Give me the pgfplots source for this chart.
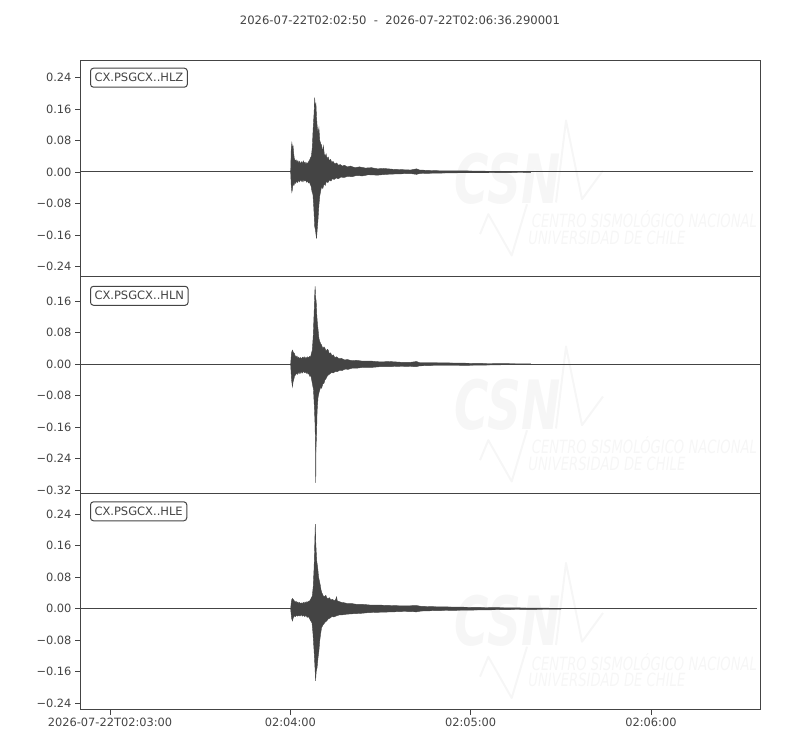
\documentclass[border=0pt]{standalone}
\usepackage{fontspec}
\setmainfont{DejaVu Sans}
\usepackage{pgfplots}
\pgfplotsset{compat=1.18}

\definecolor{ink}{HTML}{444444}
\definecolor{wm}{HTML}{F6F6F6}

\pgfplotsset{
  seis/.style={
    scale only axis, width=680pt, height=216.5pt,
    xmin=0, xmax=226.29,
    tick pos=left, tick align=outside, major tick length=5pt,
    axis line style={draw=ink, line width=1pt},
    tick style={draw=ink, line width=0.8pt},
    ticklabel style={font=\fontsize{11.4}{13}\selectfont, text=ink},
    xtick=\empty,
  },
  trace/.style={draw=ink, fill=ink, line width=0.4pt},
  base/.style={draw=ink, line width=1pt},
}
\tikzset{
  stationbox/.style={anchor=north west, xshift=10pt, yshift=-8pt, draw=ink,
    rounded corners=3pt, fill=white, line width=1pt, text=ink,
    font=\fontsize{11.5}{13}\selectfont, inner xsep=4pt, minimum height=19pt},
}

% faint CSN watermark (drawn at the bottom panel's place, shifted up for the others)
\newcommand\csnlogo[1]{%
  \begin{scope}[yshift=#1pt]
    \draw[wm, line width=2pt, line join=round] (480pt,73.3pt) -- (488.3pt,93.3pt) -- (511.7pt,52pt) -- (527pt,103.3pt);
    \draw[wm, line width=2pt, line join=round] (556pt,105pt) -- (566pt,187pt) -- (582pt,108.3pt) -- (603pt,137pt);
    \node[wm, xscale=0.69, font=\fontsize{68}{68}\selectfont\bfseries\itshape] at (507.5pt,129pt) {CSN};
    \node[wm, anchor=west, xscale=0.72, inner sep=0pt, font=\fontsize{18.3}{18.3}\selectfont\itshape] at (531.7pt,88.3pt) {CENTRO SISMOLÓGICO NACIONAL};
    \node[wm, anchor=west, xscale=0.72, inner sep=0pt, font=\fontsize{18.3}{18.3}\selectfont\itshape] at (528.3pt,70pt) {UNIVERSIDAD DE CHILE};
  \end{scope}}

\begin{document}
\begin{tikzpicture}
\useasboundingbox (0,0) rectangle (800pt,750pt);
\csnlogo{0}\csnlogo{216.5}\csnlogo{442.5}

\node[font=\fontsize{11.6}{13}\selectfont, text=ink] at (400pt,730pt)
  {2026-07-22T02:02:50\ \ -\ \ 2026-07-22T02:06:36.290001};

% HLZ
\begin{axis}[seis, at={(80pt,473.2pt)}, anchor=south west,
  ymin=-0.2662, ymax=0.2837,
  ytick={-0.24,-0.16,-0.08,0,0.08,0.16,0.24},
  yticklabels={−0.24,−0.16,−0.08,0.00,0.08,0.16,0.24}]
\addplot[base] coordinates {(0,0) (224,0)};
\addplot[trace] coordinates {
(70.1,0) (70.3,0.060) (70.5,0.074) (70.7,0.062) (70.9,0.066) (71.1,0.048) (71.3,0.035)
(71.6,0.028) (71.9,0.031) (72.2,0.024) (72.5,0.029) (72.8,0.022) (73.1,0.027) (73.4,0.020)
(73.7,0.026) (74.0,0.021) (74.3,0.028) (74.6,0.022) (74.9,0.025) (75.2,0.019) (75.5,0.024)
(75.8,0.021) (76.1,0.027) (76.4,0.030) (76.7,0.036) (77.0,0.040) (77.3,0.062) (77.6,0.112)
(77.9,0.150) (78.1,0.189) (78.3,0.160) (78.5,0.176) (78.7,0.140) (78.9,0.118) (79.2,0.098)
(79.5,0.112) (79.8,0.080) (80.1,0.072) (80.4,0.068) (80.7,0.050) (81.0,0.066) (81.3,0.045)
(81.6,0.040) (81.9,0.046) (82.2,0.034) (82.6,0.038) (83.0,0.028) (83.4,0.032) (83.8,0.024)
(84.2,0.027) (84.8,0.020) (85.4,0.023) (86.0,0.017) (86.6,0.019) (87.3,0.015) (88.0,0.017)
(89.0,0.013) (90.0,0.015) (91.5,0.011) (93.0,0.013) (95.0,0.010) (97.0,0.011) (99.0,0.008)
(101.0,0.009) (104.0,0.007) (107.0,0.006) (110.0,0.005) (112.0,0.008) (113.0,0.005)
(116.0,0.004) (120.0,0.003) (126.0,0.003) (135.0,0.002) (150.0,0.001) (150.0,0)
};
\addplot[trace] coordinates {
(70.1,0) (70.3,-0.035) (70.5,-0.051) (70.7,-0.044) (70.9,-0.030) (71.2,-0.034) (71.5,-0.026)
(71.8,-0.029) (72.1,-0.022) (72.4,-0.027) (72.7,-0.021) (73.0,-0.025) (73.3,-0.019) (73.6,-0.024)
(73.9,-0.020) (74.2,-0.025) (74.5,-0.019) (74.8,-0.023) (75.1,-0.020) (75.4,-0.026) (75.7,-0.022)
(76.0,-0.028) (76.3,-0.025) (76.6,-0.031) (76.9,-0.036) (77.2,-0.050) (77.5,-0.056) (77.8,-0.090)
(78.1,-0.138) (78.4,-0.150) (78.7,-0.169) (78.9,-0.150) (79.2,-0.121) (79.5,-0.085) (79.8,-0.060)
(80.1,-0.048) (80.4,-0.037) (80.8,-0.042) (81.2,-0.030) (81.6,-0.034) (82.0,-0.024) (82.5,-0.027)
(83.0,-0.020) (83.5,-0.023) (84.0,-0.017) (84.6,-0.019) (85.2,-0.015) (86.0,-0.017) (86.8,-0.013)
(88.0,-0.014) (89.0,-0.011) (90.5,-0.012) (92.0,-0.009) (94.0,-0.010) (96.0,-0.007) (99.0,-0.008)
(102.0,-0.006) (105.0,-0.005) (110.0,-0.004) (112.0,-0.006) (113.0,-0.004) (118.0,-0.003)
(126.0,-0.002) (135.0,-0.002) (150.0,-0.001) (150.0,0)
};
\node[stationbox, yshift=0.6pt] at (rel axis cs:0,1) {CX.PSGCX..HLZ};
\end{axis}

% HLN
\begin{axis}[seis, at={(80pt,256.7pt)}, anchor=south west,
  ymin=-0.3277, ymax=0.2222,
  ytick={-0.32,-0.24,-0.16,-0.08,0,0.08,0.16},
  yticklabels={−0.32,−0.24,−0.16,−0.08,0.00,0.08,0.16}]
\addplot[base] coordinates {(0,0) (226.29,0)};
\addplot[trace] coordinates {
(70.1,0) (70.4,0.030) (70.7,0.036) (71.0,0.030) (71.3,0.028) (71.6,0.022) (71.9,0.018)
(72.2,0.021) (72.5,0.015) (72.8,0.018) (73.1,0.014) (73.4,0.017) (73.7,0.013) (74.0,0.018)
(74.3,0.015) (74.6,0.019) (74.9,0.014) (75.2,0.018) (75.5,0.015) (75.8,0.019) (76.1,0.016)
(76.4,0.020) (76.7,0.018) (77.0,0.027) (77.3,0.036) (77.6,0.070) (77.9,0.129) (78.1,0.175)
(78.25,0.198) (78.4,0.170) (78.6,0.160) (78.8,0.125) (79.0,0.104) (79.2,0.090) (79.5,0.066)
(79.8,0.058) (80.1,0.052) (80.4,0.049) (80.8,0.040) (81.2,0.044) (81.5,0.041) (81.9,0.033)
(82.3,0.038) (82.6,0.036) (83.0,0.026) (83.4,0.029) (83.8,0.022) (84.3,0.024) (84.8,0.017)
(85.4,0.019) (86.2,0.014) (87.0,0.015) (88.0,0.011) (89.0,0.012) (90.5,0.009) (92.0,0.010)
(94.0,0.008) (97.0,0.008) (100.0,0.006) (103.0,0.007) (107.0,0.005) (110.0,0.005)
(112.0,0.007) (113.0,0.004) (118.0,0.004) (126.0,0.003) (135.0,0.002) (150.0,0.001) (150.0,0)
};
\addplot[trace] coordinates {
(70.1,0) (70.4,-0.040) (70.7,-0.057) (70.9,-0.045) (71.1,-0.040) (71.4,-0.030) (71.7,-0.027)
(72.0,-0.022) (72.3,-0.026) (72.6,-0.020) (72.9,-0.024) (73.2,-0.019) (73.5,-0.023) (73.8,-0.018)
(74.1,-0.022) (74.4,-0.017) (74.7,-0.021) (75.0,-0.019) (75.3,-0.023) (75.6,-0.020) (75.9,-0.025)
(76.2,-0.024) (76.5,-0.031) (76.8,-0.028) (77.1,-0.040) (77.4,-0.052) (77.7,-0.065) (78.0,-0.110)
(78.2,-0.149) (78.35,-0.200) (78.45,-0.301) (78.55,-0.210) (78.7,-0.183) (78.9,-0.120)
(79.2,-0.085) (79.5,-0.073) (79.8,-0.065) (80.1,-0.058) (80.4,-0.061) (80.8,-0.050) (81.2,-0.048)
(81.5,-0.040) (81.9,-0.036) (82.3,-0.030) (82.7,-0.027) (83.2,-0.024) (83.7,-0.021) (84.3,-0.022)
(85.0,-0.018) (85.6,-0.019) (86.4,-0.015) (87.2,-0.016) (88.2,-0.012) (89.2,-0.013) (90.5,-0.010)
(92.0,-0.010) (94.0,-0.008) (97.0,-0.008) (100.0,-0.006) (103.0,-0.006) (107.0,-0.005)
(112.0,-0.006) (113.0,-0.004) (118.0,-0.003) (126.0,-0.003) (135.0,-0.002) (150.0,0)
};
\node[stationbox, yshift=-1pt] at (rel axis cs:0,1) {CX.PSGCX..HLN};
\end{axis}

% HLE
\begin{axis}[seis, at={(80pt,40.2pt)}, anchor=south west,
  ymin=-0.2568, ymax=0.2931,
  ytick={-0.24,-0.16,-0.08,0,0.08,0.16,0.24},
  yticklabels={−0.24,−0.16,−0.08,0.00,0.08,0.16,0.24},
  xtick={10,70,130,190},
  xticklabels={2026-07-22T02:03:00,02:04:00,02:05:00,02:06:00}]
\addplot[base] coordinates {(0,0) (225.3,0)};
\addplot[trace] coordinates {
(70.1,0) (70.4,0.022) (70.7,0.026) (71.0,0.023) (71.3,0.020) (71.6,0.016) (71.9,0.019)
(72.2,0.014) (72.5,0.017) (72.8,0.013) (73.1,0.016) (73.4,0.012) (73.7,0.015) (74.0,0.013)
(74.3,0.016) (74.6,0.013) (74.9,0.017) (75.2,0.014) (75.5,0.018) (75.8,0.016) (76.1,0.019)
(76.5,0.020) (76.9,0.026) (77.3,0.032) (77.6,0.055) (77.9,0.104) (78.1,0.160) (78.3,0.215)
(78.45,0.170) (78.6,0.146) (78.8,0.120) (79.1,0.104) (79.4,0.080) (79.9,0.062) (80.2,0.048)
(80.5,0.040) (81.0,0.032) (81.4,0.030) (81.8,0.034) (82.1,0.028) (82.5,0.025) (83.0,0.028)
(83.5,0.022) (84.0,0.024) (84.6,0.020) (85.0,0.022) (85.4,0.030) (85.6,0.020) (86.3,0.018)
(87.0,0.016) (88.0,0.015) (89.0,0.013) (90.5,0.013) (92.0,0.011) (94.0,0.011) (97.0,0.009)
(100.0,0.009) (104.0,0.008) (108.0,0.007) (112.0,0.008) (113.5,0.006) (118.0,0.005)
(126.0,0.004) (135.0,0.003) (145.0,0.002) (160.0,0.001) (160.0,0)
};
\addplot[trace] coordinates {
(70.1,0) (70.4,-0.024) (70.7,-0.031) (71.0,-0.022) (71.4,-0.018) (71.7,-0.020) (72.0,-0.016)
(72.4,-0.019) (72.8,-0.016) (73.2,-0.019) (73.6,-0.015) (74.0,-0.019) (74.4,-0.016) (74.8,-0.020)
(75.2,-0.017) (75.6,-0.022) (76.0,-0.020) (76.4,-0.025) (76.8,-0.031) (77.2,-0.036) (77.5,-0.060)
(77.9,-0.107) (78.2,-0.150) (78.4,-0.183) (78.6,-0.160) (78.9,-0.149) (79.2,-0.125) (79.5,-0.107)
(79.8,-0.080) (80.1,-0.062) (80.4,-0.048) (80.8,-0.042) (81.2,-0.038) (81.6,-0.034) (82.1,-0.031)
(82.6,-0.026) (83.2,-0.024) (83.8,-0.020) (84.5,-0.021) (85.4,-0.018) (86.2,-0.016) (87.0,-0.016)
(88.7,-0.014) (90.5,-0.013) (93.2,-0.012) (96.0,-0.010) (100.0,-0.009) (104.3,-0.008)
(108.0,-0.007) (112.0,-0.008) (113.5,-0.006) (118.0,-0.005) (126.0,-0.004) (135.0,-0.003)
(145.0,-0.002) (160.0,-0.001) (160.0,0)
};
\node[stationbox] at (rel axis cs:0,1) {CX.PSGCX..HLE};
\end{axis}
\end{tikzpicture}
\end{document}
